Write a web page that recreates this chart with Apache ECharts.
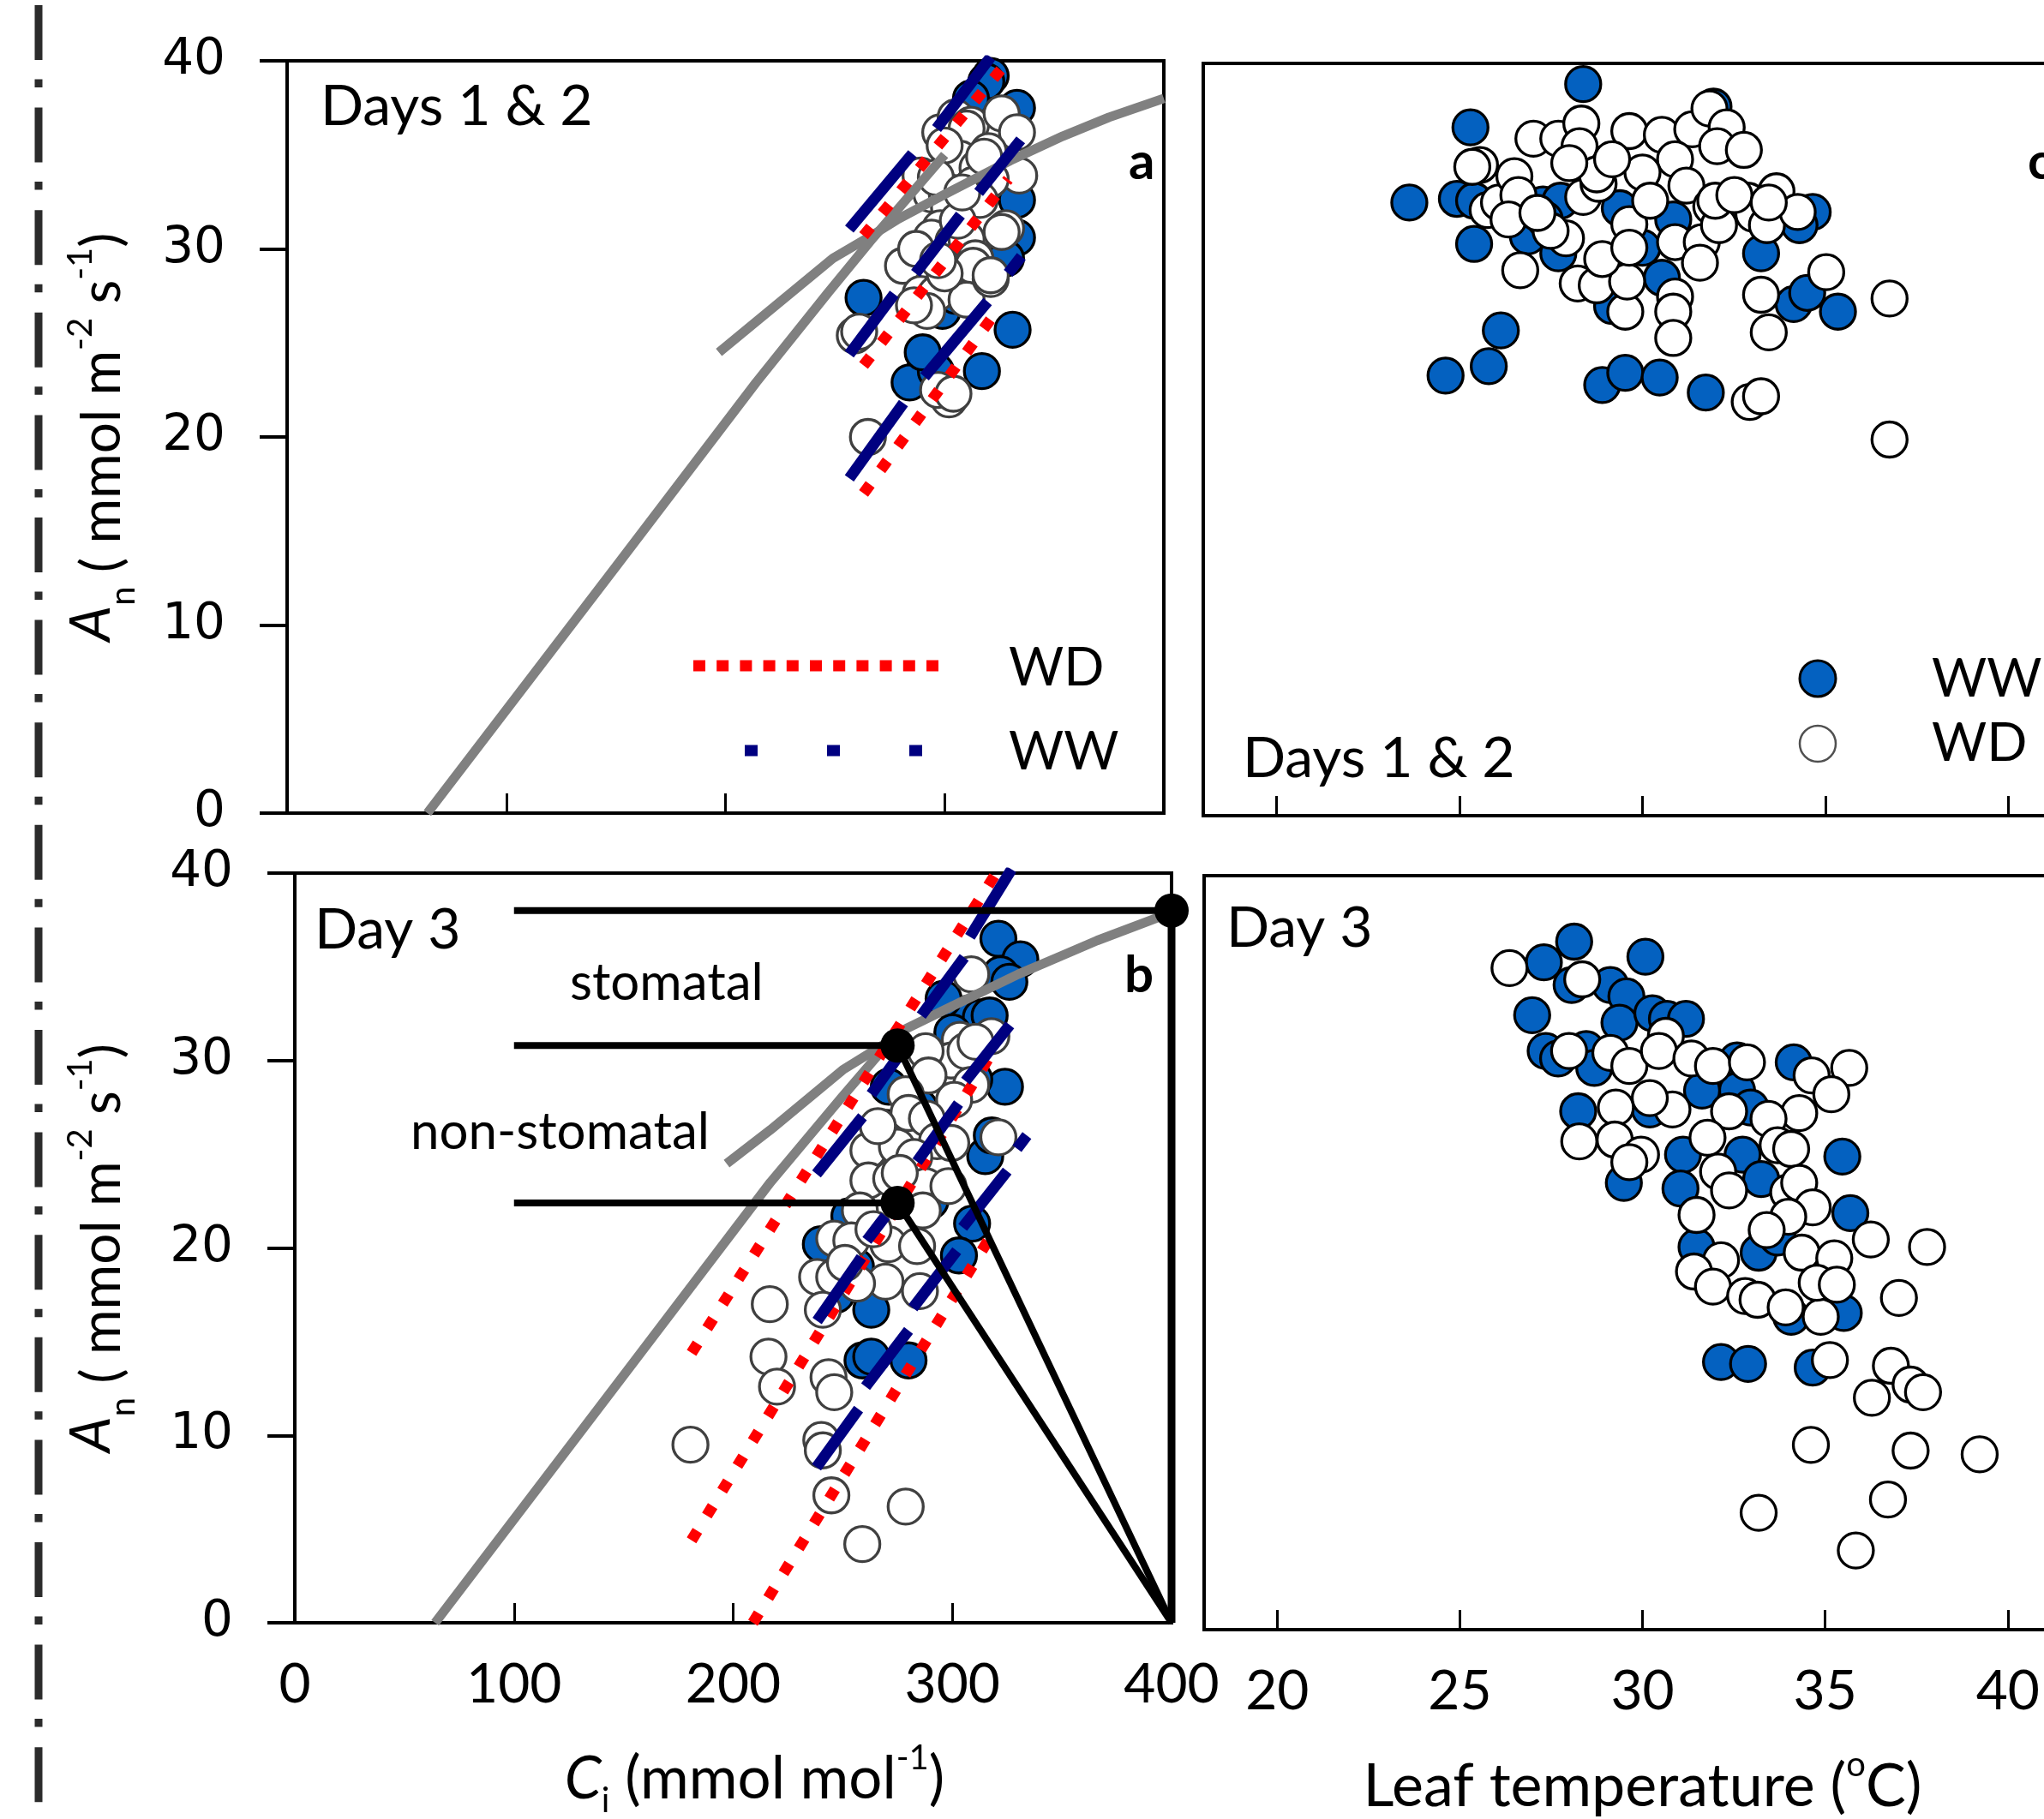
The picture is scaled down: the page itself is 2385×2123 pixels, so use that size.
<!DOCTYPE html>
<html><head><meta charset="utf-8">
<script src="https://cdn.jsdelivr.net/npm/echarts@6/dist/echarts.min.js"></script>
<style>html,body{margin:0;padding:0;background:#fff;overflow:hidden}#c{width:2600px;height:2123px}</style>
</head><body><div id="c"></div>
<script>
// ---------- tick values ----------
const ciTicks = [0, 100, 200, 300, 400];
const tempTicks = [20, 25, 30, 35, 40];
const anTicks = [0, 10, 20, 30, 40];

// ---------- Panel a (Days 1 & 2) : An vs Ci ----------
const aWW = [[321,39.2],[319,38.9],[333,37.5],[333,32.6],[333,30.6],[263,27.4],[331,25.7],[288,23.1],[284,22.9],[296,23.5],[317,23.5],[299,26.7],[328,29.5],[312,38.0],[290,24.5],[305,27.5]];
const aWD = [[298,36.2],[305,37.0],[312,36.6],[310,36.4],[326,37.2],[333,36.2],[320,35.2],[307,34.8],[315,34.3],[320,33.6],[334,33.9],[321,33.7],[313,33.4],[289,33.9],[294,32.9],[301,32.9],[302,32.2],[316,32.6],[328,31.1],[326,30.9],[298,31.1],[294,30.6],[304,30.4],[310,30.5],[314,29.5],[313,29.1],[281,29.1],[289,27.6],[296,27.6],[310,27.3],[321,28.4],[321,28.6],[292,26.7],[259,25.4],[261,25.6],[302,22.0],[297,22.5],[304,22.3],[265,20.0],[300,35.5],[318,34.9],[306,31.5],[287,30.0],[300,28.7],[286,27.0],[296,33.8],[308,33.0],[297,29.4]];
const aCurveSteep = [[64,0],[150,13.1],[214,22.9],[247,27.7],[266,30.4],[300,35.0]];
const aCurveShallow = [[197,24.5],[249,29.5],[268,30.8],[279,31.6],[300,32.9],[330,34.7],[354,36.0],[375,37.0],[400,38.0]];
const aRedWD = [
  [[263,30.7],[329,40.0]],
  [[263,23.8],[329,33.7]],
  [[263,17.0],[325,26.9]]
];
const aNavyWW = [
  [[256.5,31.05],[285.3,35.06]],
  [[296.3,36.4],[321,40.2]],
  [[315.5,33.0],[334.7,35.8]],
  [[286.7,28.7],[307.2,31.8]],
  [[329,28.7],[335,29.6]],
  [[256.5,24.4],[277,27.6]],
  [[290.8,23.2],[319.6,27.2]],
  [[256.5,17.8],[281.2,21.8]]
];

// ---------- Panel b (Day 3) : An vs Ci ----------
const bWW = [[321,36.5],[331,35.4],[322,34.6],[326,34.2],[307,32.5],[313,32.3],[317,32.4],[296,33.3],[324,28.6],[315,24.9],[309,21.3],[303,19.6],[271,28.6],[270,26.4],[240,20.2],[253,21.7],[263,16.7],[259,14.0],[280,14.0],[300,31.5],[318,26.0],[263,14.2],[285,27.5],[310,29.0],[290,22.5],[247,17.5],[256,19.0]];
const bWD = [[308.6,34.6],[317.8,31.3],[303.4,31.1],[299.5,30.0],[287.8,30.5],[289.1,29.2],[306,30.5],[308.6,28.7],[300.8,27.9],[321,25.9],[278.7,28.2],[280,27.2],[288.4,26.9],[293,25.7],[299.5,25.6],[261.7,25.2],[274.7,25.4],[282.6,24.85],[261.7,23.6],[272.1,23.7],[287.8,23.3],[298.2,23.3],[257.8,22.0],[286.5,22.0],[246.1,20.5],[253.9,20.4],[270.8,20.2],[283.9,20.1],[238.3,18.45],[246.1,18.45],[269.5,18.2],[256.5,18.1],[285.2,17.7],[240.9,16.7],[216.7,17.0],[216.1,14.2],[220,12.6],[243.5,13.1],[246.1,12.3],[240.2,9.75],[240.9,9.2],[180.5,9.5],[244.8,6.8],[278.7,6.2],[258.9,4.2],[310.6,31.0],[266,26.5],[276,24.0],[251,19.2],[264,21.0]];
const bCurveSteep = [[64,0],[150,13.2],[217,23.5],[250,28.1],[275,31.5]];
const bCurveShallow = [[197,24.5],[217,26.3],[250,29.5],[268,30.8],[279,31.7],[300,32.9],[330,34.6],[348,35.5],[366,36.4],[400,37.9]];
const bRedWD = [
  [[181,14.4],[320,40.0]],
  [[181,4.4],[318,30.4]],
  [[209,0.0],[320,21.1]]
];
const bNavyWW = [
  [[308,36.6],[327,40.2]],
  [[285.8,32.4],[305.4,35.5]],
  [[263,28.2],[276.5,30.4]],
  [[306,28.9],[326.2,31.9]],
  [[238,23.95],[259,27.0]],
  [[283.9,24.6],[302.8,27.7]],
  [[329.5,25.3],[334,26.0]],
  [[304.7,21.1],[325,24.1]],
  [[261,20.4],[269.5,21.7]],
  [[238.3,16.1],[258.5,19.5]],
  [[282,16.8],[302,19.85]],
  [[260.4,12.6],[280,15.6]],
  [[238,8.3],[257.2,11.4]]
];
const bGuideLines = [
  [[100,38.0],[400,38.0]],
  [[100,30.8],[275,30.8]],
  [[100,22.4],[275,22.4]],
  [[275,30.8],[400,0]],
  [[275,22.4],[400,0]]
];
const bGuideVertical = [[400,0],[400,38.0]];
const bGuideDots = [[400,38.0],[275,30.8],[275,22.4]];

// ---------- Panel c (Days 1 & 2) : An vs leaf temperature ----------
const cWW = [[28.38,38.9],[25.30,36.6],[31.94,37.7],[23.63,32.6],[24.93,32.8],[25.40,32.7],[25.40,30.4],[26.87,30.8],[27.28,32.5],[27.76,32.7],[29.38,32.3],[30.84,31.7],[34.65,32.1],[34.29,31.4],[33.24,29.9],[34.13,27.2],[34.50,27.8],[35.34,26.8],[26.13,25.8],[25.80,23.9],[24.62,23.4],[28.90,22.9],[29.53,23.55],[30.47,23.3],[31.73,22.5],[27.70,29.9],[29.17,27.1],[30.53,28.6],[30.00,30.2],[27.33,31.7]];
const cWD = [[27.02,36.0],[27.70,36.0],[28.33,36.8],[28.28,35.6],[29.64,36.4],[30.53,36.2],[31.36,36.5],[31.83,37.6],[32.30,36.6],[32.04,35.6],[32.77,35.4],[30.89,34.9],[25.56,34.6],[25.35,34.5],[25.77,32.2],[26.08,32.6],[26.50,34.0],[26.61,33.0],[26.34,31.7],[26.66,29.0],[28.38,32.9],[28.80,33.6],[28.75,34.1],[29.64,31.45],[30.00,34.2],[30.21,32.7],[31.20,33.5],[30.89,30.5],[31.62,30.5],[31.88,32.4],[32.09,31.4],[32.88,32.7],[33.03,32.0],[33.40,31.4],[33.66,33.2],[34.24,32.1],[33.24,27.7],[33.45,25.7],[35.02,28.9],[36.75,27.5],[36.75,20.0],[32.93,22.0],[33.24,22.3],[27.91,30.7],[27.49,31.1],[28.23,28.3],[28.75,28.2],[29.53,26.8],[29.58,28.4],[28.90,29.6],[30.89,27.6],[30.84,26.8],[30.84,25.4],[31.57,29.4],[29.64,30.2],[31.99,32.7],[32.51,33.0],[33.45,32.6],[27.13,32.05],[28.00,34.7],[29.17,34.9]];

// ---------- Panel d (Day 3) : An vs leaf temperature ----------
const dWW = [[28.13,36.5],[30.08,35.7],[27.30,35.4],[28.06,34.2],[29.12,34.2],[29.56,33.6],[26.98,32.6],[29.37,32.2],[30.27,32.7],[30.67,32.4],[31.19,32.4],[27.35,30.7],[27.69,30.3],[28.46,30.8],[28.68,29.8],[32.59,30.2],[34.14,30.1],[32.59,28.6],[31.63,28.6],[28.24,27.5],[30.20,27.6],[32.96,27.7],[31.11,25.2],[32.74,25.2],[35.47,25.1],[29.49,23.7],[31.04,23.4],[33.25,23.9],[35.69,22.1],[31.48,20.3],[33.18,20.0],[33.70,20.8],[34.07,16.6],[35.51,16.8],[32.15,14.2],[32.89,14.1],[34.66,13.9]];
const dWD = [[26.36,35.1],[28.35,34.5],[30.64,31.5],[27.99,30.7],[29.12,30.6],[29.64,29.9],[30.45,30.7],[31.34,30.3],[31.93,29.9],[32.86,30.1],[34.63,29.4],[35.66,29.8],[35.17,28.4],[30.82,27.6],[30.20,28.2],[29.27,27.7],[34.29,27.4],[32.37,27.5],[33.45,27.1],[31.78,26.1],[33.70,25.7],[34.07,25.5],[28.27,25.9],[29.24,26.0],[29.96,25.2],[29.64,24.8],[32.07,24.3],[32.37,23.3],[33.99,23.2],[34.29,23.7],[34.66,22.4],[31.48,22.0],[33.99,21.9],[36.25,20.7],[37.79,20.3],[32.15,19.6],[33.40,21.2],[34.36,20.0],[35.25,19.7],[31.41,19.0],[31.93,18.2],[32.81,17.7],[33.15,17.5],[33.92,17.1],[34.88,16.6],[34.77,18.4],[35.32,18.3],[37.02,17.6],[35.13,14.3],[36.80,14.0],[36.28,12.3],[37.34,13.0],[37.68,12.6],[34.61,9.8],[37.34,9.5],[39.23,9.3],[36.72,6.9],[33.18,6.2],[35.84,4.2]];

// ---------- styling ----------
const FONT = 'Lato';
const BLUE = '#0461C0';
const RED = '#FF0000';
const NAVY = '#000080';
const GREY = '#808080';

function richFor(size) {
  return {
    n: {fontFamily: FONT, fontSize: size, lineHeight: 90, verticalAlign: 'middle', color: '#000'},
    it: {fontFamily: FONT, fontSize: size, fontStyle: 'italic', lineHeight: 90, verticalAlign: 'middle', color: '#000'},
    itA: {fontFamily: FONT, fontSize: size + 2, fontStyle: 'italic', lineHeight: size + 2, verticalAlign: 'top', color: '#000'},
    sub: {fontFamily: FONT, fontSize: 40, verticalAlign: 'bottom', color: '#000'},
    sup: {fontFamily: FONT, fontSize: 40, verticalAlign: 'top', color: '#000'}
  };
}
const yName = '{itA|A}{sub|n}{n| ( mmol m}{sup|-2}{n| s}{sup|-1}{n|)}';

function yAxisLeft(gi, gap) {
  return {
    gridIndex: gi, type: 'value', min: 0, max: 40, interval: 10,
    axisLine: {show: true, lineStyle: {color: '#000', width: 4}},
    axisTick: {show: true, inside: false, length: 32, lineStyle: {color: '#000', width: 4}},
    axisLabel: {show: true, margin: 72, fontFamily: 'DejaVu Sans', fontSize: 58, color: '#000',
      formatter: v => anTicks.includes(v) ? String(v) : ''},
    splitLine: {show: false},
    name: yName, nameLocation: 'middle', nameGap: gap, nameRotate: 90,
    nameTextStyle: {rich: richFor(64)}
  };
}
function yAxisRight(gi) {
  return {
    gridIndex: gi, type: 'value', min: 0, max: 40, interval: 10,
    axisLine: {show: true, lineStyle: {color: '#000', width: 4}},
    axisTick: {show: false}, axisLabel: {show: false}, splitLine: {show: false}
  };
}
function xAxisCi(gi, showLabels) {
  const ax = {
    gridIndex: gi, type: 'value', min: 0, max: 400, interval: 100,
    axisLine: {show: true, onZero: false, lineStyle: {color: '#000', width: 4}},
    axisTick: {show: true, inside: true, length: 23, lineStyle: {color: '#000', width: 3}},
    axisLabel: {show: showLabels, margin: 40, fontFamily: FONT, fontSize: 64, color: '#000',
      formatter: v => ciTicks.includes(v) ? String(v) : ''},
    splitLine: {show: false}
  };
  if (showLabels) {
    ax.name = '{it|C}{sub|i}{n| (mmol mol}{sup|-1}{n|)}';
    ax.nameLocation = 'middle';
    ax.nameGap = 138;
    ax.nameTextStyle = {rich: richFor(69), padding: [0, 0, 0, 50]};
  }
  return ax;
}
function xAxisTemp(gi, showLabels) {
  const ax = {
    gridIndex: gi, type: 'value', min: 18, max: 42,
    axisLine: {show: true, onZero: false, lineStyle: {color: '#000', width: 4}},
    axisTick: {show: true, inside: true, length: 23, customValues: tempTicks, lineStyle: {color: '#000', width: 3}},
    axisLabel: {show: showLabels, margin: 40, customValues: tempTicks, fontFamily: FONT, fontSize: 64, color: '#000'},
    splitLine: {show: false}
  };
  if (showLabels) {
    ax.name = '{n|Leaf temperature (}{sup|o}{n|C)}';
    ax.nameLocation = 'middle';
    ax.nameGap = 138;
    ax.nameTextStyle = {rich: richFor(70)};
  }
  return ax;
}

function scatter(xi, data, fill, border, z) {
  return {type: 'scatter', xAxisIndex: xi, yAxisIndex: xi, data: data, symbol: 'circle', symbolSize: 41,
    itemStyle: {color: fill, borderColor: border, borderWidth: 3.3, opacity: 1}, z: z, silent: true};
}
function line(xi, data, color, width, type, z) {
  return {type: 'line', xAxisIndex: xi, yAxisIndex: xi, data: data, showSymbol: false, symbol: 'none',
    lineStyle: {color: color, width: width, type: type, cap: 'butt'}, z: z, silent: true, clip: true};
}

const series = [];
// panel a (index 0)
series.push(scatter(0, aWW, BLUE, '#000', 2));
series.push(scatter(0, aWD, '#fff', '#404040', 3));
series.push(line(0, aCurveSteep, GREY, 11, 'solid', 4));
series.push(line(0, aCurveShallow, GREY, 11, 'solid', 4));
aRedWD.forEach(s => series.push(line(0, s, RED, 13, [13, 21], 5)));
aNavyWW.forEach(s => series.push(line(0, s, NAVY, 13, 'solid', 6)));
// panel b (index 1)
series.push(scatter(1, bWW, BLUE, '#000', 2));
series.push(scatter(1, bWD, '#fff', '#404040', 3));
series.push(line(1, bCurveSteep, GREY, 11, 'solid', 4));
series.push(line(1, bCurveShallow, GREY, 11, 'solid', 4));
bRedWD.forEach(s => series.push(line(1, s, RED, 13, [13, 21], 5)));
bNavyWW.forEach(s => series.push(line(1, s, NAVY, 13, 'solid', 6)));
bGuideLines.forEach(s => series.push(line(1, s, '#000', 8, 'solid', 7)));
series.push(line(1, bGuideVertical, '#000', 9, 'solid', 7));
series.push({type: 'scatter', xAxisIndex: 1, yAxisIndex: 1, data: bGuideDots, symbol: 'circle', symbolSize: 40,
  itemStyle: {color: '#000', opacity: 1}, z: 8, silent: true});
// panel c (index 2)
series.push(scatter(2, cWW, BLUE, '#000', 2));
series.push(scatter(2, cWD, '#fff', '#000', 3));
// panel d (index 3)
series.push(scatter(3, dWW, BLUE, '#000', 2));
series.push(scatter(3, dWD, '#fff', '#000', 3));

function txt(x, y, s, size, weight) {
  return {type: 'text', x: x, y: y, z: 100,
    style: {text: s, fontFamily: FONT, fontSize: size, fontWeight: weight || 'normal', fill: '#000', align: 'left', verticalAlign: 'middle'}};
}

const graphics = [
  // dash-dot separator on the far left
  {type: 'line', z: 100, shape: {x1: 45, y1: 6, x2: 45, y2: 2123},
    style: {stroke: '#2b2b2b', lineWidth: 9, lineDash: [64, 22.5, 9.5, 23.6]}},
  txt(374, 125, 'Days 1 & 2', 66),
  txt(1317, 190, 'a', 60, 'bold'),
  txt(1450, 886, 'Days 1 & 2', 66),
  txt(2366, 190, 'c', 60, 'bold'),
  txt(367, 1086, 'Day 3', 66),
  txt(1312, 1139, 'b', 60, 'bold'),
  txt(1431, 1084, 'Day 3', 66),
  txt(665, 1148, 'stomatal', 60),
  txt(479, 1322, 'non-stomatal', 60),
  // legend panel a
  {type: 'line', z: 100, shape: {x1: 809, y1: 777, x2: 1107, y2: 777},
    style: {stroke: RED, lineWidth: 13, lineDash: [14, 13.2]}},
  txt(1177, 780, 'WD', 62),
  {type: 'line', z: 100, shape: {x1: 869, y1: 876, x2: 1077, y2: 876},
    style: {stroke: NAVY, lineWidth: 13, lineDash: [15, 81]}},
  txt(1177, 878, 'WW', 62),
  // legend panel c
  {type: 'circle', z: 100, shape: {cx: 2121, cy: 792, r: 21}, style: {fill: BLUE, stroke: '#000', lineWidth: 3}},
  txt(2254, 793, 'WW', 62),
  {type: 'circle', z: 100, shape: {cx: 2121, cy: 868, r: 21}, style: {fill: '#fff', stroke: '#505050', lineWidth: 2.5}},
  txt(2254, 868, 'WD', 62)
];

const option = {
  animation: false,
  backgroundColor: '#fff',
  grid: [
    {left: 335, top: 71, width: 1023, height: 878, show: true, borderColor: '#000', borderWidth: 4, containLabel: false},
    {left: 344, top: 1019, width: 1023, height: 877, show: true, borderColor: '#000', borderWidth: 4, containLabel: false},
    {left: 1404, top: 74, width: 1025, height: 878, show: true, borderColor: '#000', borderWidth: 4, containLabel: false},
    {left: 1405, top: 1022, width: 1023, height: 880, show: true, borderColor: '#000', borderWidth: 4, containLabel: false}
  ],
  xAxis: [xAxisCi(0, false), xAxisCi(1, true), xAxisTemp(2, false), xAxisTemp(3, true)],
  yAxis: [yAxisLeft(0, 171), yAxisLeft(1, 180), yAxisRight(2), yAxisRight(3)],
  series: series,
  graphic: {elements: graphics}
};

const chart = echarts.init(document.getElementById('c'), null, {renderer: 'canvas'});
chart.setOption(option);
</script></body></html>
